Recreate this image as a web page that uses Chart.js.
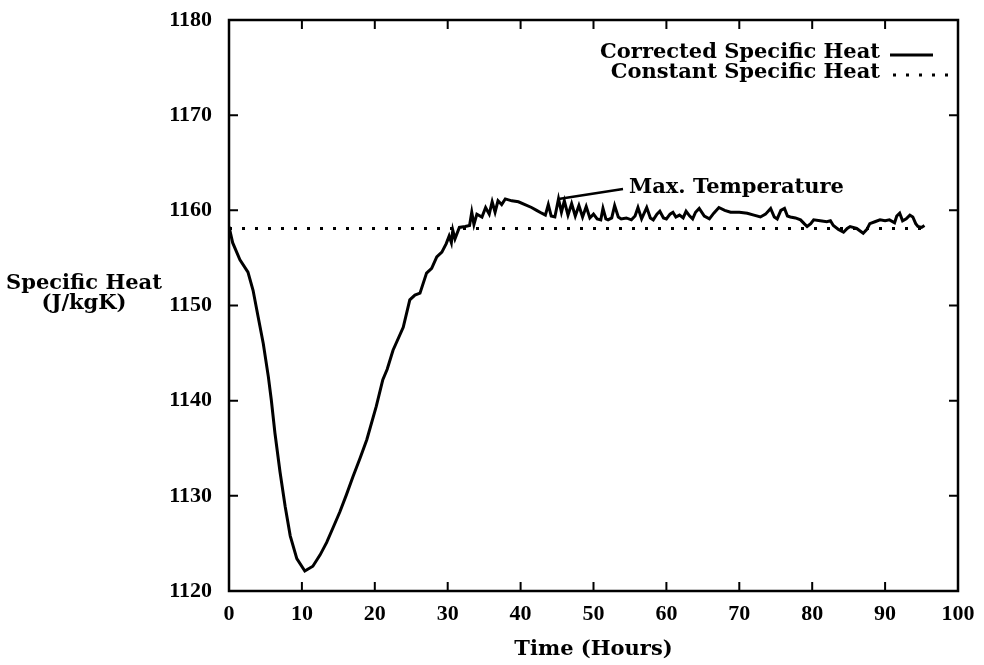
<!DOCTYPE html>
<html>
<head>
<meta charset="utf-8">
<script src="https://cdn.jsdelivr.net/npm/chart.js@4.4.1/dist/chart.umd.min.js"></script>
<style>
  html, body { margin: 0; padding: 0; background: #ffffff; }
  #wrap { width: 984px; height: 665px; position: relative; }
</style>
</head>
<body>
<div id="wrap"><canvas id="c" width="984" height="665"></canvas></div>
<script>
// ---- data ----
const time = [0, 0.5, 1.5, 2.6, 3.3, 4.0, 4.7, 5.4, 5.8, 6.3, 7.0, 7.7, 8.4, 9.3, 10.4, 11.5, 12.5, 13.4, 14.3, 15.2,
  16.1, 17.0, 18.0, 18.9, 20.2, 21.1, 21.7, 22.5, 23.9, 24.8, 25.5, 26.2, 27.1, 27.8, 28.5, 29.2, 29.8, 30.2, 30.5, 30.7,
  31.0, 31.6, 32.4, 33.0, 33.3, 33.6, 34.0, 34.7, 35.2, 35.7, 36.1, 36.5, 36.9, 37.4, 37.9, 38.8, 39.7, 40.6, 41.5, 42.2,
  42.9, 43.4, 43.8, 44.2, 44.7, 45.2, 45.6, 46.0, 46.5, 47.0, 47.5, 48.0, 48.5, 49.0, 49.5, 50.0, 50.5, 51.0, 51.3, 51.7,
  52.0, 52.5, 52.9, 53.4, 53.8, 54.5, 55.2, 55.7, 56.1, 56.6, 57.3, 57.8, 58.2, 58.7, 59.1, 59.6, 60.0, 60.5, 60.9, 61.3,
  61.8, 62.3, 62.7, 63.2, 63.6, 64.0, 64.5, 65.2, 65.9, 66.5, 67.2, 68.0, 68.8, 70.0, 71.1, 72.0, 72.9, 73.6, 74.3, 74.8,
  75.2, 75.7, 76.2, 76.6, 77.0, 77.7, 78.4, 78.9, 79.3, 79.8, 80.2, 81.1, 82.0, 82.5, 82.9, 83.6, 84.3, 84.8, 85.2, 86.1,
  87.0, 87.5, 87.9, 88.6, 89.3, 90.0, 90.6, 91.3, 91.6, 92.0, 92.4, 92.9, 93.4, 93.8, 94.2, 94.5, 95.0, 95.4];
const correctedHeat = [1158.3, 1156.6, 1154.8, 1153.5, 1151.6, 1148.8, 1146.0, 1142.5, 1140.1, 1136.6, 1132.5, 1128.9, 1125.8, 1123.4, 1122.1, 1122.6, 1123.8, 1125.1, 1126.7, 1128.3,
  1130.1, 1132.0, 1134.0, 1135.9, 1139.4, 1142.2, 1143.3, 1145.3, 1147.7, 1150.6, 1151.1, 1151.3, 1153.4, 1153.9, 1155.1, 1155.6, 1156.5, 1157.3, 1156.6, 1157.9,
  1157.0, 1158.2, 1158.3, 1158.4, 1159.8, 1158.5, 1159.6, 1159.3, 1160.3, 1159.6, 1160.9, 1159.8, 1161.0, 1160.6, 1161.2, 1161.0, 1160.9, 1160.6, 1160.3, 1160.0,
  1159.7, 1159.5, 1160.6, 1159.4, 1159.3, 1161.2, 1159.8, 1161.0, 1159.5, 1160.7, 1159.4, 1160.5, 1159.3, 1160.4, 1159.2, 1159.6, 1159.1, 1159.0, 1160.2, 1159.1,
  1159.0, 1159.2, 1160.5, 1159.3, 1159.1, 1159.2, 1159.0, 1159.4, 1160.3, 1159.1, 1160.3, 1159.2, 1159.0, 1159.6, 1159.9, 1159.2, 1159.1, 1159.6, 1159.8, 1159.3,
  1159.5, 1159.2, 1159.9, 1159.4, 1159.1, 1159.8, 1160.2, 1159.4, 1159.1, 1159.7, 1160.3, 1160.0, 1159.8, 1159.8, 1159.7, 1159.5, 1159.3, 1159.6, 1160.2, 1159.3,
  1159.1, 1160.0, 1160.2, 1159.4, 1159.3, 1159.2, 1159.0, 1158.6, 1158.3, 1158.6, 1159.0, 1158.9, 1158.8, 1158.9, 1158.4, 1158.0, 1157.7, 1158.1, 1158.3, 1158.1,
  1157.6, 1158.0, 1158.6, 1158.8, 1159.0, 1158.9, 1159.0, 1158.7, 1159.4, 1159.7, 1158.9, 1159.1, 1159.5, 1159.3, 1158.6, 1158.3, 1158.2, 1158.4];
const constantTime = [0, 96];
const constantHeat = [1158.1, 1158.1];
const xTicks = [0, 10, 20, 30, 40, 50, 60, 70, 80, 90, 100];
const yTicks = [1120, 1130, 1140, 1150, 1160, 1170, 1180];
const seriesNames = ['Corrected Specific Heat', 'Constant Specific Heat'];
const yTitle = ['Specific Heat', '(J/kgK)'];
const xTitle = 'Time (Hours)';
const annotation = { text: 'Max. Temperature', t: 45.2, v: 1161.2 };

const FONT = '"DejaVu Serif", "Liberation Serif", serif';
const TICKFONT = '"Liberation Serif", "DejaVu Serif", serif';

const framePlugin = {
  id: 'frame',
  afterDraw(chart) {
    const ctx = chart.ctx;
    const a = chart.chartArea;
    const xs = chart.scales.x, ys = chart.scales.y;
    ctx.save();
    ctx.strokeStyle = '#000';
    ctx.fillStyle = '#000';
    ctx.lineWidth = 2.5;
    ctx.strokeRect(a.left, a.top, a.right - a.left, a.bottom - a.top);
    ctx.lineWidth = 2;
    const tl = 9;
    xTicks.forEach(v => {
      const px = xs.getPixelForValue(v);
      ctx.beginPath();
      ctx.moveTo(px, a.bottom); ctx.lineTo(px, a.bottom - tl);
      ctx.moveTo(px, a.top); ctx.lineTo(px, a.top + tl);
      ctx.stroke();
    });
    yTicks.forEach(v => {
      const py = ys.getPixelForValue(v);
      ctx.beginPath();
      ctx.moveTo(a.left, py); ctx.lineTo(a.left + tl, py);
      ctx.moveTo(a.right, py); ctx.lineTo(a.right - tl, py);
      ctx.stroke();
    });
    // y title
    ctx.font = 'bold 21px ' + FONT;
    ctx.textAlign = 'center';
    ctx.textBaseline = 'middle';
    ctx.fillText(yTitle[0], 84, 284);
    ctx.fillText(yTitle[1], 84, 304);
    // x title
    ctx.fillText(xTitle, (a.left + a.right) / 2, 650);
    // legend
    const ds = chart.data.datasets;
    ctx.textAlign = 'right';
    ctx.fillText(seriesNames[0], 880, 53);
    ctx.fillText(seriesNames[1], 880, 73);
    ctx.lineWidth = ds[0].borderWidth;
    ctx.beginPath(); ctx.moveTo(890, 55); ctx.lineTo(933, 55); ctx.stroke();
    ctx.lineWidth = ds[1].borderWidth;
    ctx.setLineDash(ds[1].borderDash);
    ctx.beginPath(); ctx.moveTo(893, 75); ctx.lineTo(950, 75); ctx.stroke();
    ctx.setLineDash([]);
    // annotation
    const ax = xs.getPixelForValue(annotation.t);
    const ay = ys.getPixelForValue(annotation.v);
    ctx.lineWidth = 2.5;
    ctx.beginPath(); ctx.moveTo(ax, ay); ctx.lineTo(623, 189); ctx.stroke();
    ctx.textAlign = 'left';
    ctx.fillText(annotation.text, 629, 188);
    ctx.restore();
  }
};

new Chart(document.getElementById('c'), {
  type: 'line',
  data: {
    datasets: [
      {
        label: seriesNames[0],
        data: time.map((t, i) => ({ x: t, y: correctedHeat[i] })),
        borderColor: '#000', borderWidth: 3, pointRadius: 0, tension: 0, fill: false
      },
      {
        label: seriesNames[1],
        data: constantTime.map((t, i) => ({ x: t, y: constantHeat[i] })),
        borderColor: '#000', borderWidth: 3, borderDash: [3, 10], pointRadius: 0, fill: false
      }
    ]
  },
  options: {
    responsive: false,
    animation: false,
    layout: { autoPadding: false, padding: { top: 20, right: 26, left: 0, bottom: 0 } },
    plugins: { legend: { display: false }, tooltip: { enabled: false } },
    scales: {
      x: {
        type: 'linear', min: 0, max: 100,
        afterFit(s) { s.height = 74; s.paddingLeft = 0; s.paddingRight = 0; },
        afterBuildTicks(s) { s.ticks = xTicks.map(v => ({ value: v })); },
        grid: { display: false, drawTicks: false },
        border: { display: false },
        ticks: { color: '#000', padding: 10, maxRotation: 0, callback: v => String(v),
                 font: { family: TICKFONT, weight: 'bold', size: 22 } }
      },
      y: {
        type: 'linear', min: 1120, max: 1180,
        afterFit(s) { s.width = 229; s.paddingTop = 0; s.paddingBottom = 0; },
        afterBuildTicks(s) { s.ticks = yTicks.map(v => ({ value: v })); },
        grid: { display: false, drawTicks: false },
        border: { display: false },
        ticks: { color: '#000', padding: 17, callback: v => String(v),
                 font: { family: TICKFONT, weight: 'bold', size: 22 } }
      }
    }
  },
  plugins: [framePlugin]
});
</script>
</body>
</html>
